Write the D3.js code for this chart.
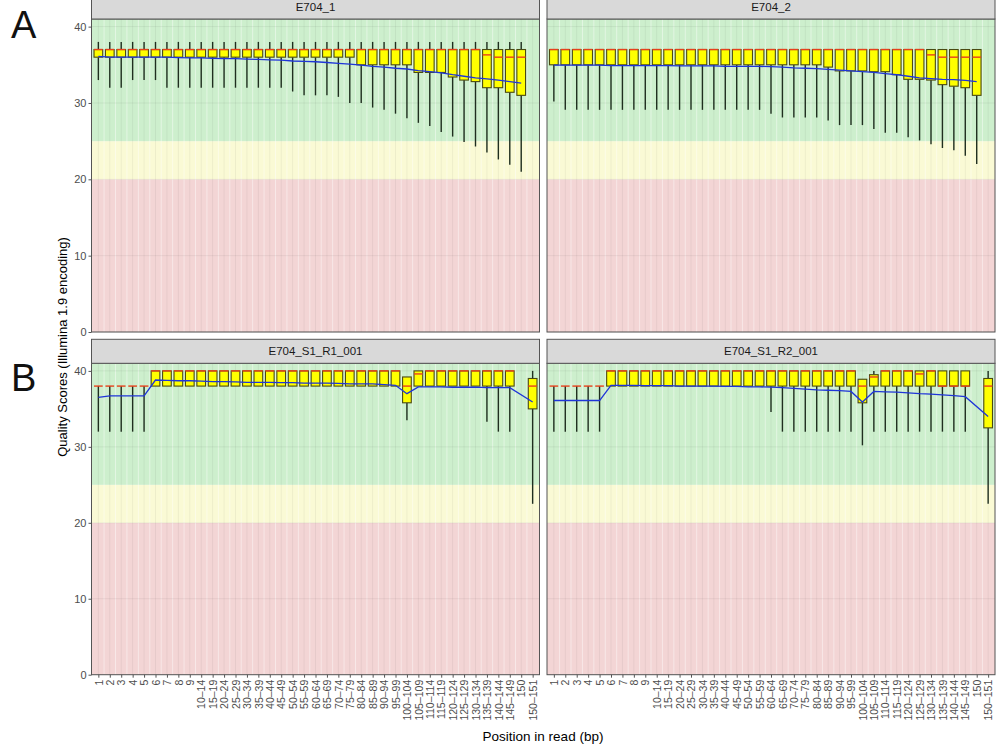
<!DOCTYPE html>
<html>
<head>
<meta charset="utf-8">
<script src="https://d3js.org/d3.v7.min.js"></script>
<style>
  body { margin: 0; background: #fff; }
  svg { display: block; font-family: "Liberation Sans", Arial, sans-serif; }
</style>
</head>
<body>
<div id="chart"></div>
<script>
// categories on the shared x axis (FastQC position bins)
const positions = ['1','2','3','4','5','6','7','8','9','10–14','15–19','20–24','25–29','30–34','35–39',
  '40–44','45–49','50–54','55–59','60–64','65–69','70–74','75–79','80–84','85–89','90–94','95–99',
  '100–104','105–109','110–114','115–119','120–124','125–129','130–134','135–139','140–144','145–149',
  '150','150–151'];
// A runs end at "150", B runs end at "150–151"
const positionsA = positions.slice(0, 38);
const positionsB = positions.filter(p => p !== '150');

const yTicks = [0, 10, 20, 30, 40];

// E704_1
const e1Low  = [33,32,32,33,33,33,32,32,32,32,32,32,32,32,32,32,32,31.5,31,31,31,30.8,30,30,29.4,29.1,28.6,28,27.4,27,26.2,25.6,24.9,24.3,23.5,22.6,21.9,21];
const e1Q1   = [36,36,36,36,36,36,36,36,36,36,36,36,36,36,36,36,36,36,36,36,36,36,36,35,35,35,35,35,34,34,34,33.4,33,32.8,32,32,31.4,31];
const e1Med  = [37,37,37,37,37,37,37,37,37,37,37,37,37,37,37,37,37,37,37,37,37,37,37,37,37,37,37,37,37,37,37,37,37,37,36.3,36,36,36];
const e1Q3   = [37,37,37,37,37,37,37,37,37,37,37,37,37,37,37,37,37,37,37,37,37,37,37,37,37,37,37,37,37,37,37,37,37,37,37,37,37,37];
const e1High = [38,38,38,38,38,38,38,38,38,38,38,38,38,38,38,38,38,38,38,38,38,38,38,38,38,38,38,38,38,38,38,38,38,38,38,38,38,38];
const e1Mean = [36.1,36.0,36.0,36.0,36.0,36.0,36.0,35.95,35.9,35.9,35.85,35.8,35.8,35.75,35.7,35.65,35.6,35.5,35.45,35.4,
  35.3,35.2,35.1,34.95,34.8,34.7,34.55,34.45,34.25,34.1,33.95,33.7,33.5,33.3,33.15,33.0,32.8,32.6];

// E704_2
const e2Low  = [30.2,29.1,29.1,29.1,29.1,29.1,29.1,29.1,29.1,29.1,29.1,29.1,29.1,29.1,29.1,29.1,29.1,29.1,29.1,28.6,28.1,28.1,28.1,28.1,27.7,27.1,27.1,27.1,26.6,26.1,26.1,25.5,25.1,24.6,24.1,23.8,23.1,22.0];
const e2Q1   = [35,35,35,35,35,35,35,35,35,35,35,35,35,35,35,35,35,35,35,35,35,35,35,35,34.7,34.2,34.2,34.2,34.1,34.1,33.7,33.1,33.1,33,32.4,32.2,32,31];
const e2Med  = [37,37,37,37,37,37,37,37,37,37,37,37,37,37,37,37,37,37,37,37,37,37,37,37,37,37,37,37,37,37,37,37,37,36.3,36,36,36,36];
const e2Q3   = [37,37,37,37,37,37,37,37,37,37,37,37,37,37,37,37,37,37,37,37,37,37,37,37,37,37,37,37,37,37,37,37,37,37,37,37,37,37];
const e2High = [37,37,37,37,37,37,37,37,37,37,37,37,37,37,37,37,37,37,37,37,37,37,37,37,37,37,37,37,37,37,37,37,37,37,37,37,37,37];
const e2Mean = [34.95,34.95,34.95,34.95,34.95,34.9,34.9,34.9,34.9,34.9,34.9,34.85,34.85,34.85,34.85,34.8,34.8,34.8,34.8,34.75,
  34.7,34.6,34.55,34.5,34.4,34.3,34.2,34.1,34.0,33.85,33.7,33.5,33.3,33.2,33.1,33.05,32.95,32.8];

// E704_S1_R1_001
const r1Low  = [32,32,32,32,32,38,38,38,38,38,38,38,38,38,38,38,38,38,38,38,38,38,38,38,38,38,38,33.5,38,38,38,38,38,38,33.3,32,32,22.5];
const r1Q1   = [38,38,38,38,38,38,38,38,38,38,38,38,38,38,38,38,38,38,38,38,38,38,38,38,38,38,38,35.8,38,38,38,38,38,38,38,38,38,35];
const r1Med  = [38,38,38,38,38,40,40,40,40,40,40,40,40,40,40,40,40,40,40,40,40,40,40,40,40,40,40,38,39.6,40,40,40,40,40,40,40,40,38];
const r1Q3   = [38,38,38,38,38,40,40,40,40,40,40,40,40,40,40,40,40,40,40,40,40,40,40,40,40,40,40,39.2,40,40,40,40,40,40,40,40,40,39];
const r1High = [38,38,38,38,38,40,40,40,40,40,40,40,40,40,40,40,40,40,40,40,40,40,40,40,40,40,40,39.2,40,40,40,40,40,40,40,40,40,40];
const r1Mean = [36.5,36.7,36.7,36.7,36.7,38.8,38.75,38.7,38.7,38.65,38.6,38.6,38.55,38.5,38.5,38.5,38.45,38.45,38.4,38.4,
  38.4,38.35,38.3,38.3,38.3,38.2,38.1,37.0,37.9,37.9,37.9,37.85,37.85,37.85,37.8,37.8,37.8,35.9];

// E704_S1_R2_001
const r2Low  = [32,32,32,32,32,38,38,38,38,38,38,38,38,38,38,38,38,38,38,34.6,32,32,32,32,32,32,32,30.2,32,32,32,32,32,32,32,32,32,22.5];
const r2Q1   = [38,38,38,38,38,38,38,38,38,38,38,38,38,38,38,38,38,38,38,38,38,38,38,38,38,38,38,35.8,38,38,38,38,38,38,38,38,38,32.5];
const r2Med  = [38,38,38,38,38,40,40,40,40,40,40,40,40,40,40,40,40,40,40,40,40,40,40,40,40,40,40,38,39.2,40,40,40,39.6,40,38,38,38,38];
const r2Q3   = [38,38,38,38,38,40,40,40,40,40,40,40,40,40,40,40,40,40,40,40,40,40,40,40,40,40,40,38.9,39.5,40,40,40,40,40,40,40,40,39];
const r2High = [38,38,38,38,38,40,40,40,40,40,40,40,40,40,40,40,40,40,40,40,40,40,40,40,40,40,40,38.9,40,40,40,40,40,40,40,40,40,40];
const r2Mean = [36.1,36.1,36.1,36.1,36.1,38.1,38.1,38.1,38.05,38.05,38.05,38.0,38.0,38.0,38.0,37.95,37.95,37.9,37.9,37.85,
  37.8,37.7,37.6,37.5,37.45,37.4,37.3,35.9,37.3,37.25,37.2,37.1,37.0,36.95,36.85,36.75,36.6,34.0];

const W = 997, H = 747;
const svg = d3.select('#chart').append('svg').attr('width', W).attr('height', H);

const cols = [[91.5, 539.5], [547, 995]];
const rows = [[19, 332], [363.3, 674.7]];

const bands = [
  { lo: 0, hi: 20, color: '#f3d5d5' },
  { lo: 20, hi: 25, color: '#fafad5' },
  { lo: 25, hi: 41, color: '#cdefcd' }
];

function drawPanel({ name, cats, low, q1, med, q3, high, mean, col, row, xAxis, yAxis }) {
  const [x0, x1] = cols[col];
  const [y0, y1] = rows[row];

  const x = d3.scalePoint().domain(positions).range([x0, x1]).padding(0.6);
  const y = d3.scaleLinear().domain([0, 41]).range([y1, y0]);
  const step = x.step();
  const bw = step * 0.76;

  const g = svg.append('g');

  // background quality bands
  g.selectAll('rect.band').data(bands).enter().append('rect')
    .attr('x', x0).attr('width', x1 - x0)
    .attr('y', d => y(d.hi)).attr('height', d => y(d.lo) - y(d.hi))
    .attr('fill', d => d.color);

  // faint vertical stripes, one per bin
  g.selectAll('line.vc').data(positions).enter().append('line')
    .attr('x1', d => x(d)).attr('x2', d => x(d)).attr('y1', y0).attr('y2', y1)
    .attr('stroke', '#000').attr('stroke-opacity', 0.05);
  g.selectAll('line.vb').data(positions.slice(1)).enter().append('line')
    .attr('x1', d => x(d) - step / 2).attr('x2', d => x(d) - step / 2).attr('y1', y0).attr('y2', y1)
    .attr('stroke', '#fff').attr('stroke-opacity', 0.45);

  g.selectAll('line.hg').data(yTicks).enter().append('line')
    .attr('x1', x0).attr('x2', x1).attr('y1', d => y(d)).attr('y2', d => y(d))
    .attr('stroke', '#000').attr('stroke-opacity', 0.06);

  const data = cats.map((c, i) => ({ c, low: low[i], q1: q1[i], med: med[i], q3: q3[i], high: high[i], mean: mean[i] }));

  // whiskers
  g.selectAll('line.wl').data(data).enter().append('line')
    .attr('x1', d => x(d.c)).attr('x2', d => x(d.c))
    .attr('y1', d => y(d.q1)).attr('y2', d => y(d.low))
    .attr('stroke', '#1f2e1f').attr('stroke-width', 1.4);
  g.selectAll('line.wh').data(data).enter().append('line')
    .attr('x1', d => x(d.c)).attr('x2', d => x(d.c))
    .attr('y1', d => y(d.q3)).attr('y2', d => y(d.high))
    .attr('stroke', '#1f2e1f').attr('stroke-width', 1.4);

  // boxes
  g.selectAll('rect.box').data(data).enter().append('rect')
    .attr('x', d => x(d.c) - bw / 2).attr('width', bw)
    .attr('y', d => y(d.q3)).attr('height', d => y(d.q1) - y(d.q3))
    .attr('fill', '#ffff00').attr('stroke', '#4a4a12').attr('stroke-width', 1.1);

  // medians
  g.selectAll('line.med').data(data).enter().append('line')
    .attr('x1', d => x(d.c) - bw / 2).attr('x2', d => x(d.c) + bw / 2)
    .attr('y1', d => y(d.med)).attr('y2', d => y(d.med))
    .attr('stroke', '#e8401c').attr('stroke-width', 1.4);

  // mean line
  g.append('path').datum(data)
    .attr('d', d3.line().x(d => x(d.c)).y(d => y(d.mean)))
    .attr('fill', 'none').attr('stroke', '#1f35d8').attr('stroke-width', 1.3);

  // panel border
  g.append('rect').attr('x', x0).attr('y', y0).attr('width', x1 - x0).attr('height', y1 - y0)
    .attr('fill', 'none').attr('stroke', '#555').attr('stroke-width', 1);

  // strip
  const sh = 24;
  g.append('rect').attr('x', x0).attr('y', y0 - sh).attr('width', x1 - x0).attr('height', sh)
    .attr('fill', '#d9d9d9').attr('stroke', '#555').attr('stroke-width', 1);
  g.append('text').attr('x', (x0 + x1) / 2).attr('y', y0 - sh / 2).attr('dy', '0.35em')
    .attr('text-anchor', 'middle').style('font-size', '11.5px').style('fill', '#1a1a1a').text(name);

  if (yAxis) {
    const gy = g.append('g').attr('transform', `translate(${x0},0)`)
      .call(d3.axisLeft(y).tickValues(yTicks).tickSize(3).tickPadding(2));
    gy.select('.domain').remove();
    gy.selectAll('line').attr('stroke', '#555');
    gy.selectAll('text').style('font-size', '11px').style('fill', '#4d4d4d').style('font-family', 'Liberation Sans, Arial, sans-serif');
  }
  if (xAxis) {
    const gx = g.append('g').attr('transform', `translate(0,${y1})`)
      .call(d3.axisBottom(x).tickSize(3));
    gx.select('.domain').remove();
    gx.selectAll('line').attr('stroke', '#555');
    gx.selectAll('text')
      .attr('transform', 'rotate(-90)')
      .attr('x', -5).attr('y', 0).attr('dy', '0.35em')
      .style('text-anchor', 'end')
      .style('font-size', '10.5px').style('fill', '#4d4d4d').style('font-family', 'Liberation Sans, Arial, sans-serif');
  }
}

drawPanel({ name: 'E704_1', cats: positionsA, low: e1Low, q1: e1Q1, med: e1Med, q3: e1Q3, high: e1High, mean: e1Mean, col: 0, row: 0, yAxis: true });
drawPanel({ name: 'E704_2', cats: positionsA, low: e2Low, q1: e2Q1, med: e2Med, q3: e2Q3, high: e2High, mean: e2Mean, col: 1, row: 0 });
drawPanel({ name: 'E704_S1_R1_001', cats: positionsB, low: r1Low, q1: r1Q1, med: r1Med, q3: r1Q3, high: r1High, mean: r1Mean, col: 0, row: 1, yAxis: true, xAxis: true });
drawPanel({ name: 'E704_S1_R2_001', cats: positionsB, low: r2Low, q1: r2Q1, med: r2Med, q3: r2Q3, high: r2High, mean: r2Mean, col: 1, row: 1, xAxis: true });

// panel letters
svg.append('text').attr('x', 11).attr('y', 38).style('font-size', '38px').style('fill', '#111').text('A');
svg.append('text').attr('x', 11).attr('y', 391).style('font-size', '38px').style('fill', '#111').text('B');

// axis titles
svg.append('text').attr('transform', 'rotate(-90)')
  .attr('x', -347).attr('y', 67).attr('text-anchor', 'middle')
  .style('font-size', '13px').style('fill', '#000')
  .text('Quality Scores (Illumina 1.9 encoding)');
svg.append('text').attr('x', 543).attr('y', 741).attr('text-anchor', 'middle')
  .style('font-size', '13.5px').style('fill', '#000')
  .text('Position in read (bp)');
</script>
</body>
</html>
